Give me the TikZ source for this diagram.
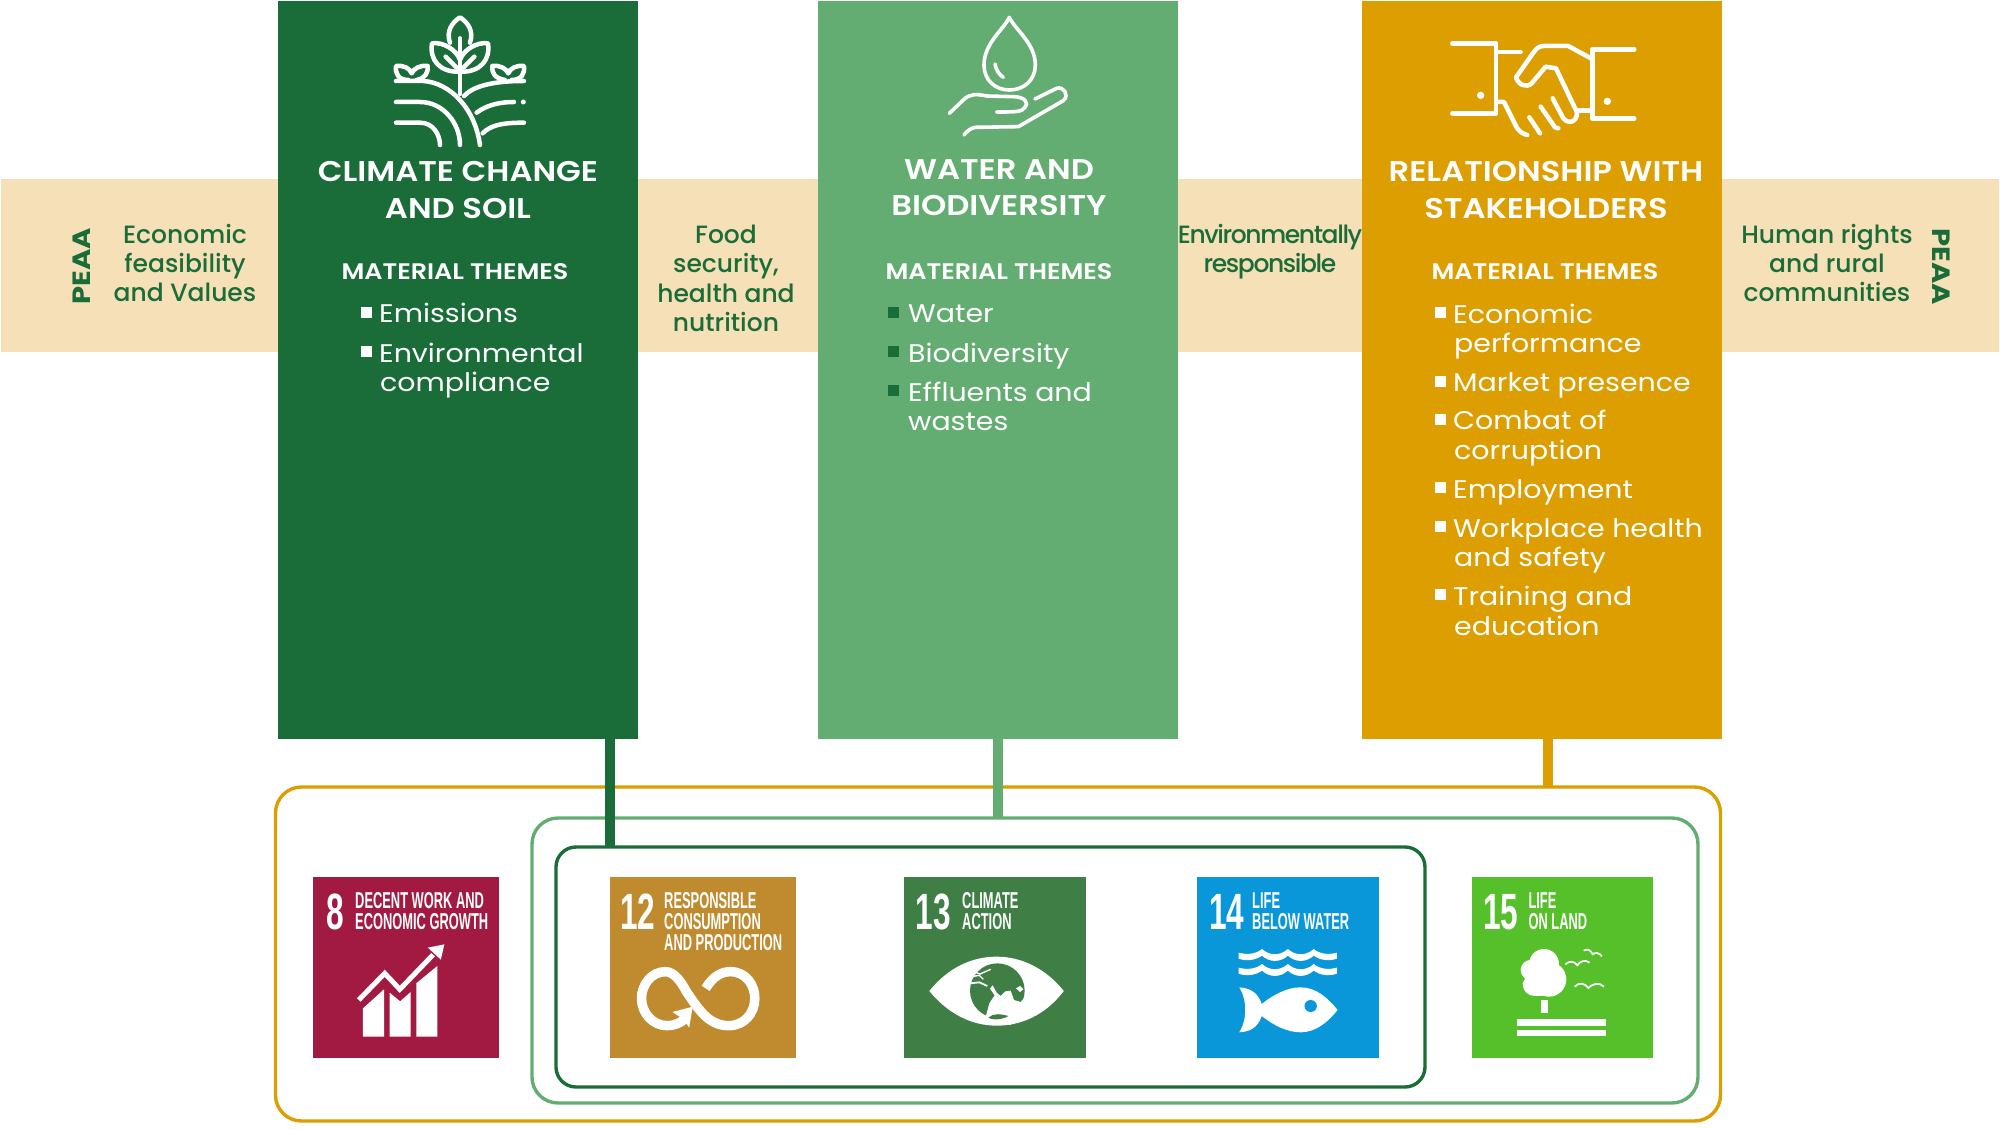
\documentclass[tikz,border=0pt]{standalone}
\usepackage{fontspec}
\setmainfont{Poppins}[FakeStretch=1.115]
\newfontfamily\hf{Poppins SemiBold}[FakeStretch=1.13]
\newfontfamily\mf{Poppins Medium}
\newfontfamily\pf{Poppins}[FakeStretch=1.16]
\newfontfamily\sdgf{Liberation Sans Bold}[FakeStretch=0.56]
\newfontfamily\sdgn{Liberation Sans Bold}[FakeStretch=0.62]
\definecolor{cgreen}{HTML}{1A6C38}
\definecolor{cmid}{HTML}{64AD72}
\definecolor{cgold}{HTML}{DC9E00}
\definecolor{cband}{HTML}{F5E0B7}
\definecolor{sa}{HTML}{A21A42}
\definecolor{sb}{HTML}{BF8B2E}
\definecolor{sc}{HTML}{3F7E44}
\definecolor{sd}{HTML}{0A97D9}
\definecolor{se}{HTML}{56C02B}
\tikzset{
 panel/.style={inner sep=0pt,outer sep=0pt,rectangle},
 ringbox/.style={inner sep=0pt,outer sep=0pt,rectangle,rounded corners=26pt,line width=3.4pt},
 head/.style={inner sep=0pt,anchor=base,text=white,font=\hf\fontsize{28.5}{30}\selectfont},
 mt/.style={inner sep=0pt,anchor=base,text=white,font=\hf\fontsize{22.5}{24}\selectfont},
 body/.style={inner sep=0pt,anchor=base west,text=white,font=\fontsize{25.5}{28}\selectfont},
 band/.style={inner sep=0pt,anchor=base,text=cgreen,font=\mf\fontsize{25}{28}\selectfont},
 peaa/.style={inner sep=0pt,text=cgreen,font=\pf\bfseries\fontsize{25}{26}\selectfont},
 bul/.style={inner sep=0pt,minimum size=11pt,rectangle},
 square/.style={inner sep=0pt,outer sep=0pt,rectangle},
 sdgnum/.style={inner sep=0pt,anchor=base west,text=white,font=\sdgn\fontsize{51}{51}\selectfont},
 sdgtxt/.style={inner sep=0pt,anchor=base west,text=white,align=left,font=\sdgf\fontsize{23}{21.2}\selectfont},
 icon/.style={draw=white,line width=4.5pt,line cap=round,line join=round},
 thinicon/.style={draw=white,line width=3.6pt,line cap=round,line join=round},
 conn/.style={line width=10pt},
}
\begin{document}
\begin{tikzpicture}[x=1pt,y=-1pt]
\useasboundingbox (0,0) rectangle (2000,1129);
\node[panel,fill=cband,minimum width=1998pt,minimum height=173pt] (bandbg) at (1000,265.5) {};
\node[panel,fill=cgreen,minimum width=360pt,minimum height=738pt] (box1) at (457.7,370) {};
\node[panel,fill=cmid,minimum width=360pt,minimum height=738pt] (box2) at (997.7,370) {};
\node[panel,fill=cgold,minimum width=360pt,minimum height=738pt] (box3) at (1542,370) {};
% rings
\node[ringbox,draw=cgold,minimum width=1445pt,minimum height=334pt] (ringa) at (998,954) {};
\node[ringbox,draw=cmid,minimum width=1166pt,minimum height=285pt] (ringb) at (1115,960.5) {};
\node[ringbox,draw=cgreen,minimum width=869pt,minimum height=240pt,rounded corners=20pt] (ringc) at (990.5,967) {};
% connectors
\coordinate (xa) at (610,0);
\coordinate (xb) at (997.5,0);
\coordinate (xc) at (1548,0);
\draw[conn,cgreen] (xa |- box1.south) -- (xa |- ringc.north);
\draw[conn,cmid] (xb |- box2.south) -- (xb |- ringb.north);
\draw[conn,cgold] (xc |- box3.south) -- (xc |- ringa.north);
% band texts
\node[peaa,rotate=90] (pl) at (82,266.5) {PEAA};
\node[peaa,rotate=-90] (pr) at (1941,266.5) {PEAA};
\node[band] (b1) at (185,243.5) {Economic};
\node[band] (b2) at (185,272.5) {feasibility};
\node[band] (b3) at (185,301.5) {and Values};
\node[band] (b4) at (726,243.5) {Food};
\node[band] (b5) at (726,272.5) {security,};
\node[band] (b6) at (726,302) {health and};
\node[band] (b7) at (726,331.5) {nutrition};
\node[band] (b8) at (1270,243.5) {\addfontfeature{LetterSpace=-5.5}Environmentally};
\node[band] (b9) at (1270,272) {\addfontfeature{LetterSpace=-5.5}responsible};
\node[band] (b10) at (1827,243.5) {Human rights};
\node[band] (b11) at (1827,272.5) {and rural};
\node[band] (b12) at (1827,301.5) {communities};
% heads
\node[head] (h1) at (458,181.5) {CLIMATE CHANGE};
\node[head] (h2) at (458,218.5) {AND SOIL};
\node[head] (h3) at (999,179) {WATER AND};
\node[head] (h4) at (999,215) {BIODIVERSITY};
\node[head] (h5) at (1546,181.5) {RELATIONSHIP WITH};
\node[head] (h6) at (1546,218.5) {STAKEHOLDERS};
\node[mt] (m1) at (455,279) {MATERIAL THEMES};
\node[mt] (m2) at (999,279) {MATERIAL THEMES};
\node[mt] (m3) at (1545,279) {MATERIAL THEMES};
% list 1
\node[bul,fill=white] (u1) at (366,312) {};
\node[body] (t1) at (379,322) {Emissions};
\node[bul,fill=white] (u2) at (366,351) {};
\node[body] (t2) at (379,362) {Environmental};
\node[body] (t3) at (380,391) {compliance};
% list 2
\node[bul,fill=cgreen] (u3) at (893,312) {};
\node[body] (t4) at (908,322) {Water};
\node[bul,fill=cgreen] (u4) at (893,351) {};
\node[body] (t5) at (908,362) {Biodiversity};
\node[bul,fill=cgreen] (u5) at (893,390) {};
\node[body] (t6) at (908,401) {Effluents and};
\node[body] (t7) at (908,430) {wastes};
% list 3
\node[bul,fill=white] (u6) at (1440,312) {};
\node[body] (t8) at (1453,323) {Economic};
\node[body] (t9) at (1454,352) {performance};
\node[bul,fill=white] (u7) at (1440,381) {};
\node[body] (t10) at (1453,391) {Market presence};
\node[bul,fill=white] (u8) at (1440,419) {};
\node[body] (t11) at (1453,429.5) {Combat of};
\node[body] (t12) at (1454,459) {corruption};
\node[bul,fill=white] (u9) at (1440,487) {};
\node[body] (t13) at (1453,498) {Employment};
\node[bul,fill=white] (u10) at (1440,526) {};
\node[body] (t14) at (1453,537) {Workplace health};
\node[body] (t15) at (1454,566) {and safety};
\node[bul,fill=white] (u11) at (1440,594) {};
\node[body] (t16) at (1453,605.5) {Training and};
\node[body] (t17) at (1454,635) {education};
% plant icon
\begin{scope}[shift={(260,0)},x=0.3333pt,y=-0.3333pt]
\draw[icon] (570,128) .. controls (558,95) and (575,68) .. (600,52) .. controls (625,68) and (642,95) .. (630,128);
\draw[icon] (600,215) .. controls (540,218) and (508,180) .. (516,130) .. controls (550,125) and (590,150) .. (600,180) .. controls (610,150) and (650,125) .. (684,130) .. controls (692,180) and (660,218) .. (600,215);
\draw[icon] (600,115) -- (600,282);
\draw[icon] (557,170) -- (590,203);
\draw[icon] (643,170) -- (610,203);
\draw[icon] (445,240) .. controls (415,240) and (405,220) .. (408,198) .. controls (430,195) and (450,205) .. (455,220) .. controls (462,205) and (480,195) .. (503,198) .. controls (505,220) and (495,235) .. (470,240);
\draw[icon] (735,240) .. controls (705,235) and (695,220) .. (697,198) .. controls (720,195) and (738,205) .. (745,220) .. controls (750,205) and (770,195) .. (792,198) .. controls (795,220) and (785,240) .. (755,240);
\draw[icon] (408,243) -- (490,243) .. controls (570,248) and (645,325) .. (660,435);
\draw[icon] (612,288) .. controls (640,258) and (700,243) .. (792,243);
\draw[icon] (408,306) -- (480,306) .. controls (550,306) and (600,370) .. (600,435);
\draw[icon] (650,338) .. controls (680,315) and (720,306) .. (762,306);
\fill[white] (790,306) circle[radius=7.5];
\draw[icon] (408,368) -- (480,368) .. controls (520,368) and (540,405) .. (540,435);
\draw[icon] (668,400) .. controls (690,378) and (720,368) .. (792,368);
\end{scope}
% water icon
\begin{scope}[shift={(900,0)},x=0.3333pt,y=-0.3333pt]
\draw[thinicon] (328,52) .. controls (310,90) and (252,130) .. (252,195) .. controls (252,240) and (285,270) .. (328,270) .. controls (372,270) and (406,240) .. (406,195) .. controls (406,130) and (346,90) .. (328,52) -- cycle;
\draw[thinicon] (285,192) .. controls (288,210) and (298,225) .. (310,232);
\draw[thinicon] (148,340) -- (190,300) .. controls (210,280) and (230,282) .. (260,288) -- (340,290) .. controls (375,290) and (388,310) .. (375,322) .. controls (365,336) and (350,336) .. (290,336);
\draw[thinicon] (405,297) -- (470,265) .. controls (490,258) and (510,285) .. (490,302) -- (355,380) -- (225,382) .. controls (210,385) and (200,395) .. (192,405);
\end{scope}
% handshake
\begin{scope}[shift={(1400,20)},x=0.3333pt,y=-0.3333pt]
\draw[icon] (157,70) -- (288,70) -- (288,280) -- (157,280);
\draw[icon] (288,96) -- (362,96);
\fill[white] (242,226) circle[radius=11];
\draw[icon] (703,88) -- (578,88) -- (578,296) -- (703,296);
\fill[white] (622,244) circle[radius=11];
\draw[icon] (578,118) -- (505,78) -- (430,78) .. controls (415,78) and (408,88) .. (400,98) -- (348,172) .. controls (355,195) and (380,205) .. (395,190) -- (437,140) -- (468,145) -- (530,275) .. controls (535,300) and (510,318) .. (490,295) -- (458,235);
\draw[icon] (422,260) -- (465,322) -- (475,325);
\draw[icon] (388,292) -- (420,340);
\draw[icon] (530,272) -- (578,272);
\draw[icon] (288,246) -- (312,246) -- (350,322) .. controls (358,335) and (368,342) .. (382,345);
\end{scope}
% SDG squares
\node[square,fill=sa,minimum width=186pt,minimum height=181.5pt] (s8) at (406,967.4) {};
\node[square,fill=sb,minimum width=186pt,minimum height=181.5pt] (s12) at (703,967.4) {};
\node[square,fill=sc,minimum width=181.7pt,minimum height=181.5pt] (s13) at (995,967.4) {};
\node[square,fill=sd,minimum width=181.7pt,minimum height=181.5pt] (s14) at (1288,967.4) {};
\node[square,fill=se,minimum width=181.5pt,minimum height=181.5pt] (s15) at (1562.5,967.4) {};
\node[sdgnum] (n8) at (326.5,929.3) {8};
\node[sdgtxt] (x8) at (355,929.3) {DECENT WORK AND\\ECONOMIC GROWTH};
\node[sdgnum] (n12) at (620,929.3) {12};
\node[sdgtxt] (x12) at (664,950.7) {RESPONSIBLE\\CONSUMPTION\\AND PRODUCTION};
\node[sdgnum] (n13) at (915.5,929.3) {13};
\node[sdgtxt] (x13) at (962,929.3) {CLIMATE\\ACTION};
\node[sdgnum] (n14) at (1209,929.3) {14};
\node[sdgtxt] (x14) at (1252,929.3) {LIFE\\BELOW WATER};
\node[sdgnum] (n15) at (1483,929.3) {15};
\node[sdgtxt] (x15) at (1528.3,929.3) {LIFE\\ON LAND};
% SDG 8 and 12 icons
\begin{scope}[shift={(290,860)},x=0.3508pt,y=-0.3333pt]
\fill[white] (208,530) -- (208,445) -- (268,388) -- (268,530) -- cycle;
\fill[white] (284,530) -- (284,398) -- (314,424) -- (344,396) -- (344,530) -- cycle;
\fill[white] (360,530) -- (360,370) -- (420,318) -- (420,530) -- cycle;
\draw[white,line width=5pt] (196,420) -- (270,340) -- (313,388) -- (408,284);
\fill[white] (393,263) -- (440,253) -- (430,299) -- cycle;
\draw[white,line width=9.5pt] (1185,385) .. controls (1205,350) and (1230,335) .. (1255,335) .. controls (1300,335) and (1325,375) .. (1325,415) .. controls (1325,460) and (1295,497) .. (1250,497) .. controls (1190,497) and (1160,440) .. (1130,395) .. controls (1115,365) and (1095,335) .. (1070,335) .. controls (1030,335) and (1002,375) .. (1002,415) .. controls (1002,460) and (1035,497) .. (1075,497) .. controls (1095,497) and (1110,490) .. (1125,478);
\fill[white] (1090,456) -- (1148,440) -- (1138,503) -- (1122,478) -- cycle;
\end{scope}
% SDG 13 and 14 icons
\begin{scope}[shift={(880,860)},x=0.3448pt,y=-0.3333pt]
\fill[white] (143,393) .. controls (200,320) and (270,290) .. (338,290) .. controls (410,290) and (480,325) .. (533,393) .. controls (480,465) and (410,497) .. (338,497) .. controls (270,497) and (200,465) .. (143,393) -- cycle;
\fill[white] (1042,382) .. controls (1085,385) and (1100,410) .. (1107,432) .. controls (1140,405) and (1180,382) .. (1220,382) .. controls (1265,382) and (1300,415) .. (1327,450) .. controls (1300,485) and (1265,517) .. (1220,517) .. controls (1180,517) and (1140,495) .. (1107,468) .. controls (1100,490) and (1085,515) .. (1042,517) .. controls (1065,480) and (1065,420) .. (1042,382) -- cycle;
\fill[sd] (1249,438) circle[radius=18];
\foreach \dy in {0,45}{
\fill[white,shift={(0,\dy)}] (1040,278) .. controls (1065,285) and (1090,282) .. (1108,267) .. controls (1130,288) and (1160,288) .. (1183,267) .. controls (1205,288) and (1235,288) .. (1258,267) .. controls (1275,282) and (1300,285) .. (1325,278) -- (1325,296) .. controls (1300,305) and (1275,300) .. (1258,287) .. controls (1235,308) and (1205,308) .. (1183,287) .. controls (1160,308) and (1130,308) .. (1108,287) .. controls (1090,300) and (1065,305) .. (1040,296) -- cycle;
}
\end{scope}
% globe, in the coordinates of a 3x crop at (970,950)
\begin{scope}[shift={(970,950)},x=0.3333pt,y=-0.3333pt]
\fill[sc] (82,122) circle[radius=82];
\fill[white] (60,116) -- (68,106) -- (80,128) -- (92,138) -- (106,124) -- (122,122) -- (132,150) -- (152,156) -- (170,135) -- (190,180) -- (120,225) -- (40,215) -- (50,190) -- (58,160) -- (74,136) -- cycle;
\fill[sc] (55,203) .. controls (70,188) and (95,192) .. (115,198) .. controls (100,208) and (70,212) .. (55,203) -- cycle;
\fill[sc] (128,130) -- (142,118) -- (158,130) -- (150,148) -- (135,145) -- cycle;
\fill[white] (138,115) -- (150,108) -- (160,118) -- (150,126) -- cycle;
\draw[white,line width=1.8pt] (0,100) -- (28,97) -- (52,108);
\draw[white,line width=1.4pt] (4,80) -- (28,76) -- (40,88);
\draw[white,line width=1.4pt] (14,66) -- (30,72) -- (62,58);
\fill[white] (0,85) -- (14,66) -- (30,50) -- (8,62) -- cycle;
\end{scope}
% SDG 15 icon
\begin{scope}[shift={(1440,860)},x=0.3333pt,y=-0.3333pt]
\fill[white] (312,312) circle[radius=45];
\fill[white] (272,330) circle[radius=30];
\fill[white] (327,358) circle[radius=52];
\fill[white] (248,370) .. controls (248,395) and (265,408) .. (285,408) -- (340,408) -- (340,340) -- (260,345) -- cycle;
\fill[white] (304,420) rectangle (323,460);
\fill[white] (232,478) rectangle (499,497);
\fill[white] (232,511) rectangle (499,529);
\draw[white,line width=1.7pt] (376,313) .. controls (390,300) and (405,305) .. (412,316) .. controls (420,303) and (435,298) .. (449,308);
\draw[white,line width=1.7pt] (431,272) .. controls (442,265) and (452,270) .. (458,283) .. controls (465,276) and (478,278) .. (486,289);
\draw[white,line width=1.7pt] (404,380) .. controls (418,365) and (435,370) .. (445,384) .. controls (455,372) and (478,365) .. (492,380);
\end{scope}
\end{tikzpicture}
\end{document}
